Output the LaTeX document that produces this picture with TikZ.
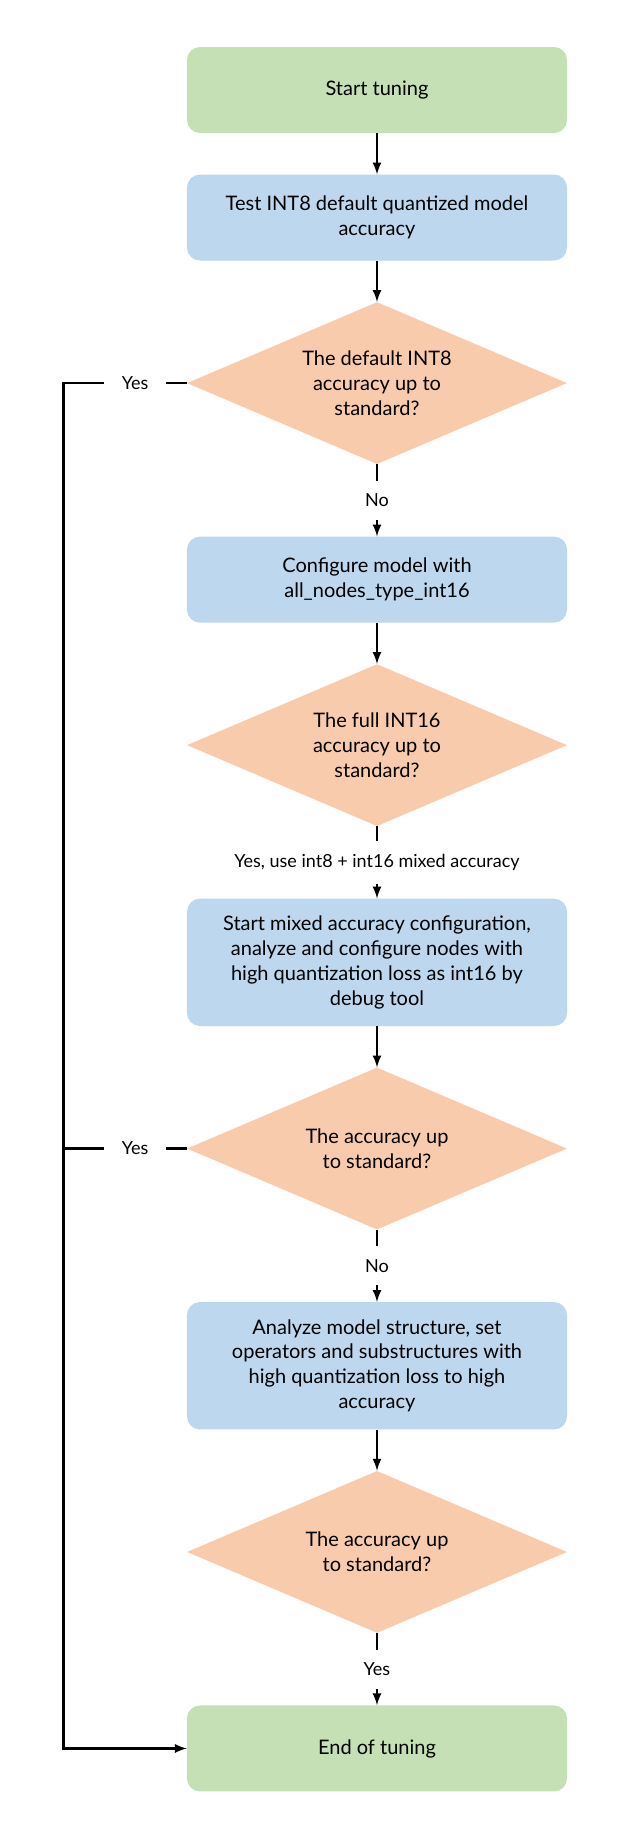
\documentclass[tikz,border=0pt]{standalone}
\usepackage{fontspec}
\setmainfont{Lato}
\usetikzlibrary{shapes.geometric}
\usetikzlibrary{positioning}
\definecolor{termgreen}{HTML}{C5E0B4}
\definecolor{stepblue}{HTML}{BDD7EE}
\definecolor{askorange}{HTML}{F8CBAD}

\begin{document}
\begin{tikzpicture}[node distance=30.75pt and 0pt,
    box/.style = {rectangle, rounded corners=9.75pt, minimum width=285pt, minimum height=64.5pt,
        inner sep=0pt, align=center, font=\fontsize{15}{18.7}\selectfont},
    big box/.style = {box, minimum height=95.5pt},
    decision/.style = {diamond, aspect=2.35, minimum width=285pt, minimum height=121.5pt,
        inner sep=0pt, fill=askorange, align=center, font=\fontsize{15}{18.7}\selectfont},
    answer/.style = {fill=white, inner xsep=13pt, inner ysep=9.8pt, font=\fontsize{13.5}{15}\selectfont},
    flow/.style = {draw, line width=2pt, -latex}]
    \useasboundingbox[fill=white] (-282.75pt,67.5pt) rectangle (190.5pt,-1309.5pt);
    \node [box, fill=termgreen] (start) {Start tuning};
    \node [box, fill=stepblue, below=of start] (test) {Test INT8 default quantized model\\accuracy};
    \node [decision, below=of test] (int8) {The default INT8\\accuracy up to\\standard?};
    \node [box, fill=stepblue, below=54pt of int8] (int16) {Configure model with\\all\_nodes\_type\_int16};
    \node [decision, below=of int16] (full) {The full INT16\\accuracy up to\\standard?};
    \node [big box, fill=stepblue, below=54pt of full] (mixed) {Start mixed accuracy configuration,\\analyze and configure nodes with\\high quantization loss as int16 by\\debug tool};
    \node [decision, below=of mixed] (mixok) {The accuracy up\\to standard?};
    \node [big box, fill=stepblue, below=54pt of mixok] (struct) {Analyze model structure, set\\operators and substructures with\\high quantization loss to high\\accuracy};
    \node [decision, below=of struct] (structok) {The accuracy up\\to standard?};
    \node [box, fill=termgreen, below=54pt of structok] (end) {End of tuning};
    \coordinate [left=92.25pt of int8.west] (back);

    \draw [flow] (start) -- (test);
    \draw [flow] (test) -- (int8);
    \draw [flow] (int8) -- node[answer]{No} (int16);
    \draw [flow] (int16) -- (full);
    \draw [flow] (full) -- node[answer]{Yes, use int8 + int16 mixed accuracy} (mixed);
    \draw [flow] (mixed) -- (mixok);
    \draw [flow] (mixok) -- node[answer]{No} (struct);
    \draw [flow] (struct) -- (structok);
    \draw [flow] (structok) -- node[answer]{Yes} (end);
    % back to the end box
    \draw [flow] (int8.west) -- node[answer, pos=0.42]{Yes} (back) |- (end.west);
    \draw [line width=2pt] (mixok.west) -- node[answer, pos=0.42]{Yes} (mixok.west -| back);
\end{tikzpicture}
\end{document}
